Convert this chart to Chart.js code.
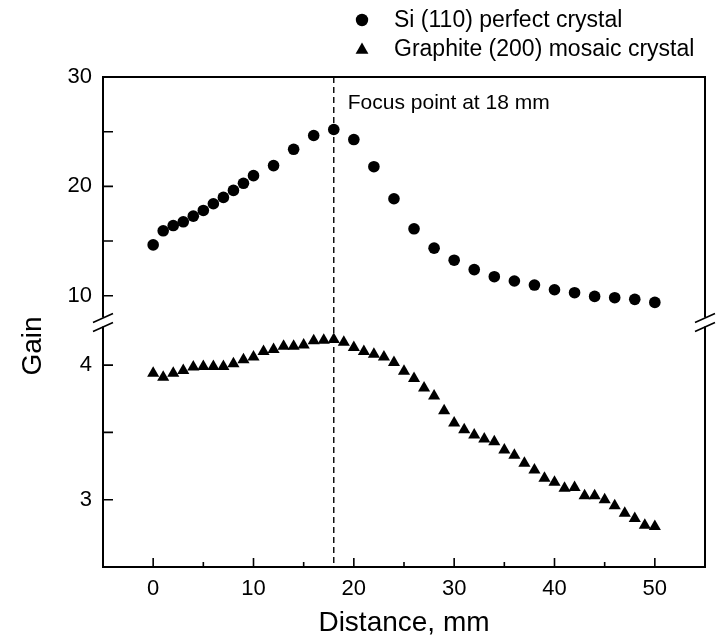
<!DOCTYPE html>
<html lang="en">
<head>
  <meta charset="UTF-8">
  <title>Gain vs Distance</title>
  <script src="https://cdn.jsdelivr.net/npm/chart.js"></script>
  <style>
    html, body { margin: 0; padding: 0; background: #fff; }
  </style>
</head>
<body>
<canvas id="myChart" width="721" height="640"></canvas>
<script>
  // Si (110) perfect crystal
  const siDistance = [0, 1, 2, 3, 4, 5, 6, 7, 8, 9, 10, 12, 14, 16, 18, 20, 22, 24, 26, 28, 30,
    32, 34, 36, 38, 40, 42, 44, 46, 48, 50];
  const siGain = [14.65, 15.94, 16.42, 16.76, 17.28, 17.8, 18.41, 18.99, 19.63, 20.28, 20.98,
    21.9, 23.39, 24.65, 25.2, 24.28, 21.8, 18.87, 16.12, 14.35, 13.25,
    12.39, 11.74, 11.35, 10.98, 10.55, 10.28, 9.94, 9.82, 9.67, 9.39];

  // Graphite (200) mosaic crystal
  const graphiteDistance = [0, 1, 2, 3, 4, 5, 6, 7, 8, 9, 10, 11, 12, 13, 14, 15, 16, 17, 18, 19, 20,
    21, 22, 23, 24, 25, 26, 27, 28, 29, 30, 31, 32, 33, 34, 35, 36, 37, 38, 39, 40,
    41, 42, 43, 44, 45, 46, 47, 48, 49, 50];
  const graphiteGain = [3.94, 3.91, 3.94, 3.96, 3.985, 3.99, 3.99, 3.99, 4.01, 4.04, 4.06,
    4.10, 4.115, 4.14, 4.14, 4.15, 4.18, 4.185, 4.19, 4.17, 4.13,
    4.10, 4.08, 4.06, 4.02, 3.955, 3.90, 3.83, 3.77, 3.66, 3.57,
    3.52, 3.48, 3.45, 3.43, 3.37, 3.33, 3.27, 3.22, 3.16, 3.13,
    3.085, 3.09, 3.03, 3.03, 3.00, 2.955, 2.90, 2.86, 2.81, 2.80];

  const xTicks = [0, 10, 20, 30, 40, 50];
  const xMinorTicks = [5, 15, 25, 35, 45];
  const topTicks = [10, 20, 30];
  const topMinorTicks = [15, 25];
  const bottomTicks = [3, 4];
  const bottomMinorTicks = [3.5];
  const focusDistance = 18;

  const seriesLabels = ['Si (110) perfect crystal', 'Graphite (200) mosaic crystal'];
  const FONT = "'Liberation Sans', Arial, sans-serif";

  const framePlugin = {
    id: 'frame',
    beforeDatasetsDraw(chart) {
      const {ctx, chartArea, scales} = chart;
      const fx = scales.x.getPixelForValue(focusDistance);
      ctx.save();
      ctx.strokeStyle = '#000';
      ctx.lineWidth = 1.4;
      ctx.setLineDash([6, 4]);
      ctx.beginPath();
      ctx.moveTo(fx, chartArea.top);
      ctx.lineTo(fx, chartArea.bottom);
      ctx.stroke();
      ctx.restore();
    },
    afterDraw(chart) {
      const {ctx, chartArea, scales} = chart;
      const {left, right, top, bottom} = chartArea;
      const x = scales.x, yT = scales.yTop, yB = scales.yBot;
      ctx.save();
      ctx.strokeStyle = '#000';
      ctx.fillStyle = '#000';

      // inward tick marks
      ctx.lineWidth = 1.6;
      ctx.beginPath();
      xTicks.forEach(v => { const p = x.getPixelForValue(v); ctx.moveTo(p, bottom); ctx.lineTo(p, bottom - 9); });
      xMinorTicks.forEach(v => { const p = x.getPixelForValue(v); ctx.moveTo(p, bottom); ctx.lineTo(p, bottom - 5); });
      topTicks.concat(topMinorTicks).forEach(v => { const p = yT.getPixelForValue(v); ctx.moveTo(left, p); ctx.lineTo(left + 10, p); });
      bottomTicks.concat(bottomMinorTicks).forEach(v => { const p = yB.getPixelForValue(v); ctx.moveTo(left, p); ctx.lineTo(left + 10, p); });
      ctx.stroke();

      // top and right frame
      ctx.lineWidth = 2;
      ctx.beginPath();
      ctx.moveTo(left, top);
      ctx.lineTo(right, top);
      ctx.lineTo(right, bottom);
      ctx.stroke();

      // axis break marks on both sides
      const b = yT.bottom;
      [left, right].forEach(ax => {
        ctx.fillStyle = '#fff';
        ctx.fillRect(ax - 3, b - 4.5, 6, 9);
        ctx.lineWidth = 1.6;
        ctx.beginPath();
        ctx.moveTo(ax - 10, b + 0.5); ctx.lineTo(ax + 10, b - 8.5);
        ctx.moveTo(ax - 10, b + 9.5); ctx.lineTo(ax + 10, b + 0.5);
        ctx.stroke();
      });

      // annotation
      ctx.fillStyle = '#000';
      ctx.font = '21px ' + FONT;
      ctx.textAlign = 'left';
      ctx.textBaseline = 'alphabetic';
      ctx.fillText('Focus point at 18 mm', x.getPixelForValue(focusDistance) + 14, top + 32);

      // y axis title
      ctx.save();
      ctx.font = '28px ' + FONT;
      ctx.textAlign = 'center';
      ctx.textBaseline = 'middle';
      ctx.translate(left - 70, (top + bottom) / 2 + 24);
      ctx.rotate(-Math.PI / 2);
      ctx.fillText('Gain', 0, 0);
      ctx.restore();

      // legend
      const styles = ['circle', 'triangle'];
      const radii = [6.2, 7.4];
      ctx.font = '23px ' + FONT;
      ctx.textBaseline = 'middle';
      seriesLabels.forEach((label, i) => {
        const ly = top - 57 + i * 28.5;
        ctx.fillStyle = '#000';
        Chart.helpers.drawPoint(ctx, {pointStyle: styles[i], radius: radii[i], borderWidth: 0, rotation: 0},
          left + 259, ly + (i ? 1.5 : 0));
        ctx.fillText(label, left + 291, ly + 1);
      });
      ctx.restore();
    }
  };

  const ctx = document.getElementById('myChart').getContext('2d');
  new Chart(ctx, {
    type: 'scatter',
    data: {
      datasets: [
        {
          label: seriesLabels[0],
          data: siDistance.map((d, i) => ({x: d, y: siGain[i]})),
          yAxisID: 'yTop',
          pointStyle: 'circle',
          pointRadius: 5.8,
          pointBorderWidth: 0,
          backgroundColor: '#000',
          borderColor: '#000'
        },
        {
          label: seriesLabels[1],
          data: graphiteDistance.map((d, i) => ({x: d, y: graphiteGain[i]})),
          yAxisID: 'yBot',
          pointStyle: 'triangle',
          pointRadius: 7,
          pointBorderWidth: 0,
          backgroundColor: '#000',
          borderColor: '#000'
        }
      ]
    },
    options: {
      responsive: false,
      animation: false,
      devicePixelRatio: 1,
      layout: { padding: { top: 77, right: 16, bottom: 0, left: 0 } },
      scales: {
        x: {
          type: 'linear',
          min: -5,
          max: 55,
          afterBuildTicks: axis => { axis.ticks = xTicks.map(v => ({value: v})); },
          afterFit: axis => { axis.height = 73; },
          grid: { display: false, drawTicks: false },
          border: { display: true, color: '#000', width: 2 },
          ticks: { color: '#000', padding: 9, font: { family: FONT, size: 22 } },
          title: {
            display: true,
            text: 'Distance, mm',
            color: '#000',
            padding: { top: 0, bottom: 0 },
            font: { family: FONT, size: 28 }
          }
        },
        yBot: {
          type: 'linear',
          position: 'left',
          stack: 'gain',
          stackWeight: 1,
          min: 2.5,
          max: 4.32,
          afterBuildTicks: axis => { axis.ticks = bottomTicks.map(v => ({value: v})); },
          afterFit: axis => { axis.width = 103; },
          grid: { display: false, drawTicks: false },
          border: { display: true, color: '#000', width: 2 },
          ticks: { color: '#000', padding: 11, font: { family: FONT, size: 22 } }
        },
        yTop: {
          type: 'linear',
          position: 'left',
          stack: 'gain',
          stackWeight: 1,
          min: 7.6,
          max: 30,
          afterBuildTicks: axis => { axis.ticks = topTicks.map(v => ({value: v})); },
          afterFit: axis => { axis.width = 103; },
          grid: { display: false, drawTicks: false },
          border: { display: true, color: '#000', width: 2 },
          ticks: { color: '#000', padding: 11, font: { family: FONT, size: 22 } }
        }
      },
      plugins: {
        legend: { display: false },
        tooltip: { enabled: false }
      }
    },
    plugins: [framePlugin]
  });
</script>
</body>
</html>
